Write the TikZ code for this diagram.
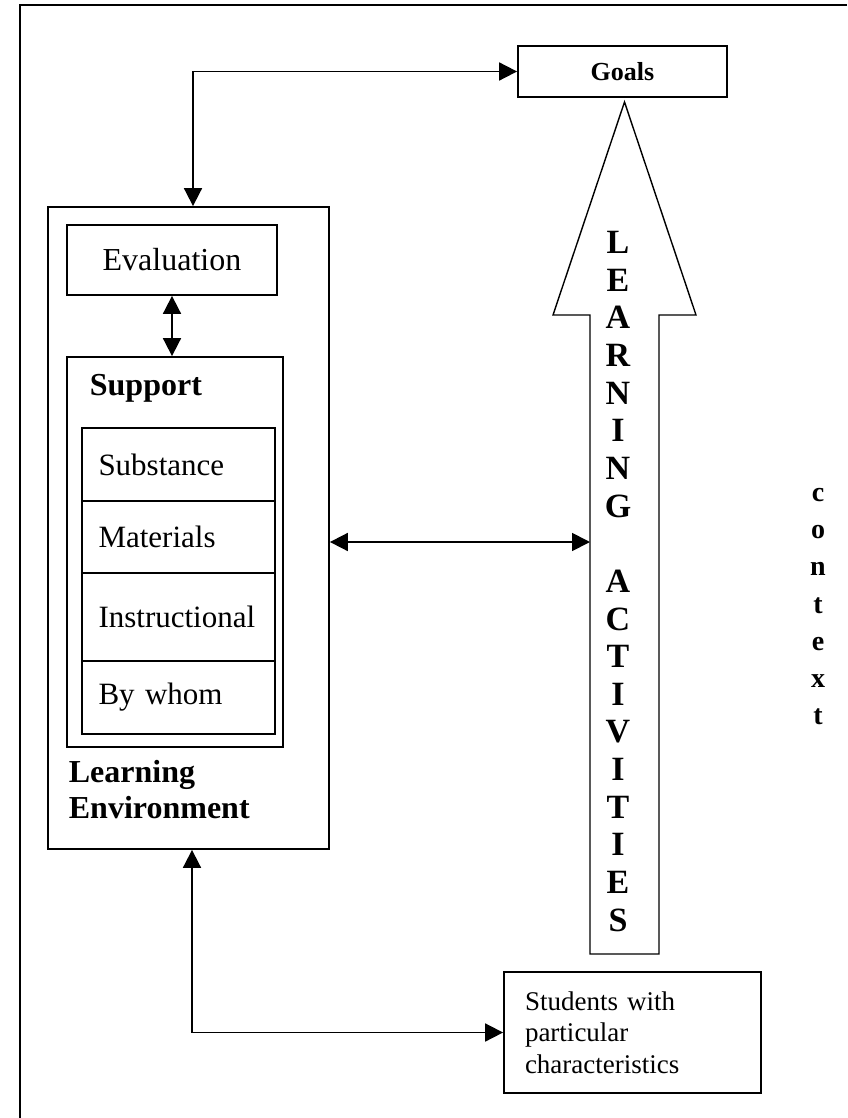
\documentclass[tikz,border=0pt]{standalone}
\usepackage{fontspec}
\setmainfont{Liberation Serif}
\usetikzlibrary{arrows.meta,positioning}

\begin{document}
\begin{tikzpicture}[x=0.5pt, y=-0.5pt, line width=0.9pt,
    box/.style={draw, inner sep=0pt},
    row/.style={draw, outer sep=0pt, minimum width=96.5pt, text width=80pt,
        inner xsep=8.25pt, align=left, font=\fontsize{15.5}{18}\selectfont},
    title/.style={anchor=west, inner sep=0pt, align=left,
        font=\fontsize{16}{18}\selectfont\bfseries},
    link/.style={draw, {Triangle[length=9pt,width=9pt]}-{Triangle[length=9pt,width=9pt]}},
    ltr/.style={anchor=base, inner sep=0pt, font=\fontsize{17}{20}\selectfont\bfseries},
    ctx/.style={anchor=base, inner sep=0pt, font=\fontsize{14}{16}\selectfont\bfseries}]
    \useasboundingbox (0,0) rectangle (847,1118);
    % frame
    \draw (847,5) -- (20,5) -- (20,1118);
    \node[box, minimum width=104.5pt, minimum height=25.5pt,
        font=\fontsize{13}{15}\selectfont\bfseries] (goals) at (622.5,71.5) {Goals};
    % learning environment
    \node[box, minimum width=140.5pt, minimum height=321pt] (env) at (188.5,528) {};
    \node[box, minimum width=105pt, minimum height=35pt,
        font=\fontsize{16}{19}\selectfont] (eval) at (172,260) {Evaluation};
    \node[box, minimum width=108pt, minimum height=195pt] (support) at (175,552) {};
    \node[title] (supporttitle) at (89,388) {Support};
    \node[row, minimum height=36.5pt] (substance) at (178.5,464.5) {Substance};
    \node[row, minimum height=36pt, below=0pt of substance] (materials) {Materials};
    \node[row, minimum height=44pt, below=0pt of materials] (instructional) {Instructional};
    \node[row, minimum height=36.5pt, below=0pt of instructional] (bywhom) {By whom};
    \node[title] (envtitle) at (68,790) {Learning\\Environment};
    % students
    \node[box, minimum width=128.5pt, minimum height=60.5pt, text width=107.5pt,
        inner xsep=10.5pt, align=left, font=\fontsize{13.5}{15.75}\selectfont]
        (students) at (632.5,1032.5) {Students with\\particular\\characteristics};
    % big arrow
    \draw[line width=0.7pt] (624.5,102) -- (696,315) -- (659,315) -- (659,954)
        -- (590,954) -- (590,315) -- (553,315) -- cycle;
    \foreach \l [count=\i from 0] in {L,E,A,R,N,I,N,G,{},A,C,T,I,V,I,T,I,E,S}
        \node[ltr] (act\i) at (618,{253.5+37.65*\i}) {\l};
    \foreach \l [count=\i from 0] in {c,o,n,t,e,x,t}
        \node[ctx] (ctx\i) at (818,{501.5+37.2*\i}) {\l};
    % connectors
    \coordinate (topturn) at (193,71.5);
    \coordinate (botturn) at (192,1032.5);
    \coordinate (shaftleft) at (590,542);
    \draw[link] (env.north -| topturn) -- (topturn) -- (goals.west);
    \draw[link] (env.south -| botturn) -- (botturn) -- (students.west);
    \draw[link] (eval.south) -- (eval.south |- support.north);
    \draw[link] (env.east |- shaftleft) -- (shaftleft);
\end{tikzpicture}
\end{document}
